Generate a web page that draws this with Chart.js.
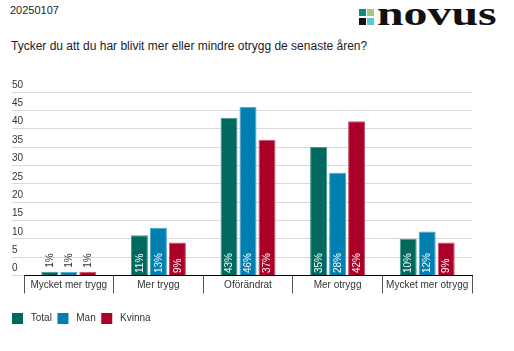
<!DOCTYPE html>
<html>
<head>
<meta charset="utf-8">
<script src="https://cdn.jsdelivr.net/npm/chart.js@4/dist/chart.umd.min.js"></script>
<style>
  html, body { margin: 0; padding: 0; background: #fff; }
  body { width: 514px; height: 351px; position: relative; overflow: hidden; font-family: "Liberation Sans", Arial, sans-serif; color: #222; }
  #date { position: absolute; left: 10px; top: 4px; font-size: 11px; }
  #question { position: absolute; left: 11px; top: 39px; font-size: 12px; }
  .sq { position: absolute; width: 7px; height: 7px; }
  #word { position: absolute; left: 377px; top: -4px; font-family: "Liberation Serif", "DejaVu Serif", serif; font-weight: bold; font-size: 33px; color: #111; transform-origin: 0 0; transform: scaleX(1.45); }
  #chartbox { position: absolute; left: 0; top: 0; width: 514px; height: 351px; }
</style>
</head>
<body>
<div id="date">20250107</div>
<div id="question">Tycker du att du har blivit mer eller mindre otrygg de senaste åren?</div>
<div class="sq" style="left:359px;top:9px;background:#0a8a84"></div>
<div class="sq" style="left:367px;top:9px;background:#a9c47f"></div>
<div class="sq" style="left:359px;top:18px;background:#111"></div>
<div class="sq" style="left:367px;top:18px;background:#5ec7d1"></div>
<div id="word">novus</div>
<div id="chartbox"><canvas id="c" width="514" height="351"></canvas></div>
<script>
const categories = ["Mycket mer trygg", "Mer trygg", "Oförändrat", "Mer otrygg", "Mycket mer otrygg"];
const seriesNames = ["Total", "Man", "Kvinna"];
const totalValues = [1, 11, 43, 35, 10];
const manValues = [1, 13, 46, 28, 12];
const kvinnaValues = [1, 9, 37, 42, 9];
const yTicks = [0, 5, 10, 15, 20, 25, 30, 35, 40, 45, 50];

const fills = ["#00695f", "#007fb0", "#ab0028"];
const edges = ["#4a968f", "#4aa3c8", "#c65069"];
const FONT = "'Liberation Sans', Arial, sans-serif";

const valueLabels = {
  id: "valueLabels",
  afterDatasetsDraw(chart) {
    const ctx = chart.ctx;
    ctx.save();
    ctx.font = "10px " + FONT;
    ctx.textBaseline = "middle";
    ctx.textAlign = "left";
    chart.data.datasets.forEach((ds, di) => {
      const meta = chart.getDatasetMeta(di);
      meta.data.forEach((bar, i) => {
        const txt = ds.data[i] + "%";
        const w = ctx.measureText(txt).width;
        const h = bar.base - bar.y;
        ctx.save();
        if (h > w + 6) {
          ctx.translate(bar.x + 0.5, bar.base - 2);
          ctx.fillStyle = "#ffffff";
        } else {
          ctx.translate(bar.x + 0.5, bar.y - 4);
          ctx.fillStyle = "#333333";
        }
        ctx.rotate(-Math.PI / 2);
        ctx.fillText(txt, 0, 0);
        ctx.restore();
      });
    });
    ctx.restore();
  }
};

const valuesBySeries = [totalValues, manValues, kvinnaValues];

new Chart(document.getElementById("c"), {
  type: "bar",
  data: {
    labels: categories,
    datasets: seriesNames.map((name, k) => ({
      label: name,
      data: valuesBySeries[k],
      backgroundColor: fills[k],
      borderColor: edges[k],
      borderWidth: 1,
      categoryPercentage: 0.636,
      barPercentage: 0.895
    }))
  },
  options: {
    responsive: false,
    animation: false,
    devicePixelRatio: 1,
    layout: { padding: { left: 12, right: 42, top: 92, bottom: 17 } },
    plugins: {
      tooltip: { enabled: false },
      legend: {
        position: "bottom",
        align: "start",
        labels: {
          boxWidth: 11,
          boxHeight: 11,
          padding: 0,
          color: "#333",
          font: { family: FONT, size: 10 },
          generateLabels(chart) {
            const items = Chart.defaults.plugins.legend.labels.generateLabels(chart);
            items.forEach(it => { it.text = " " + it.text + "  "; it.lineWidth = 0; });
            return items;
          }
        }
      }
    },
    scales: {
      x: {
        grid: { display: true, offset: true, drawOnChartArea: false, drawTicks: true, tickLength: 18, color: "#555" },
        border: { display: true, color: "#000", width: 1 },
        ticks: { autoSkip: false, padding: -14, color: "#333", maxRotation: 0, minRotation: 0, font: { family: FONT, size: 10 } },
        afterFit(axis) { axis.height = 37.5; }
      },
      y: {
        min: 0,
        max: 50,
        afterBuildTicks(axis) { axis.ticks = yTicks.map(v => ({ value: v })); },
        grid: { color: "#d9d9d9", lineWidth: 1, drawTicks: true, tickLength: 12 },
        border: { display: false },
        ticks: { crossAlign: "far", labelOffset: -7, padding: 0, color: "#333", font: { family: FONT, size: 10 } },
        afterFit(axis) { axis.width = 12; }
      }
    }
  },
  plugins: [valueLabels]
});
</script>
</body>
</html>
